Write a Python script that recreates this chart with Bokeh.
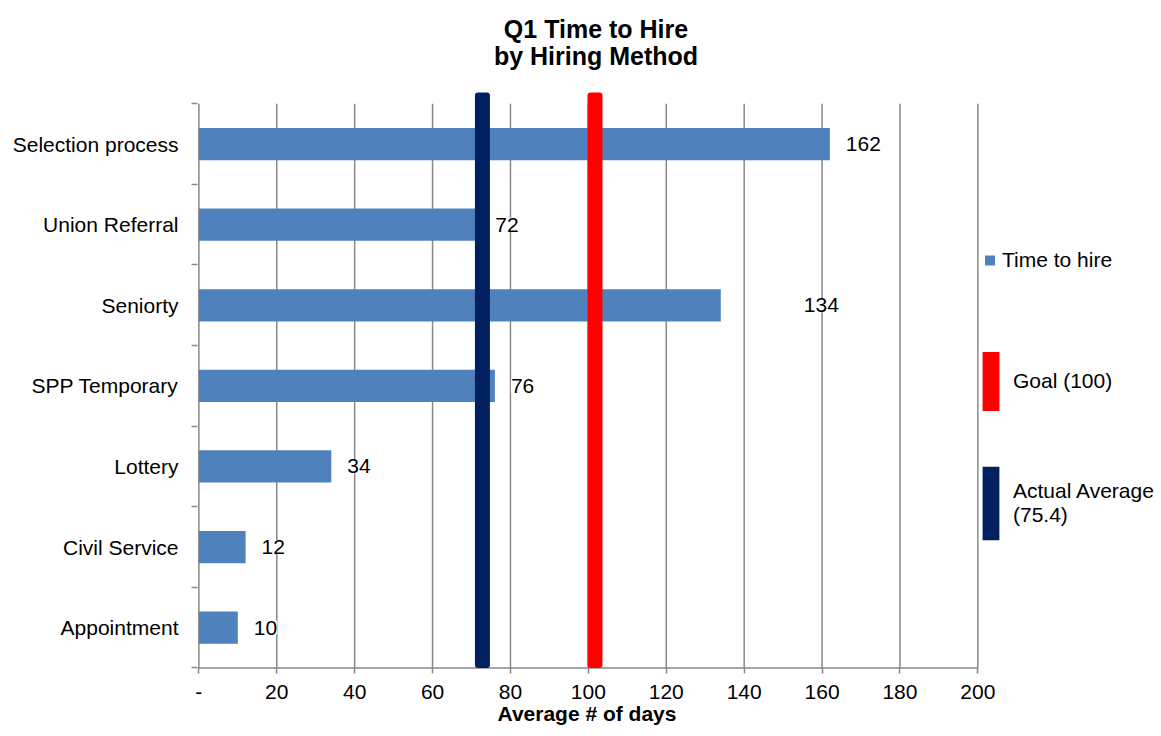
from bokeh.plotting import figure
from bokeh.models import (ColumnDataSource, Range1d, FixedTicker, LabelSet, Label,
                          Legend, LegendItem, Title)
from bokeh.core.properties import value
from bokeh.embed import file_html
from bokeh.resources import INLINE

# ---------------- data ----------------
categories = ["Selection process", "Union Referral", "Seniorty", "SPP Temporary",
              "Lottery", "Civil Service", "Appointment"]
days = [162, 72, 134, 76, 34, 12, 10]

x_ticks = [0, 20, 40, 60, 80, 100, 120, 140, 160, 180, 200]
x_tick_labels = ["-", "20", "40", "60", "80", "100", "120", "140", "160", "180", "200"]

goal_value = 100
actual_average = 75.4
# positions of the two reference lines as drawn in the chart
goal_line_x = 101.7
actual_line_x = 72.8

title_lines = ["Q1 Time to Hire", "by Hiring Method"]
x_axis_title = "Average # of days"

# ---------------- style / layout ----------------
FONT = "Liberation Sans"
BLUE = "#4F81BD"
RED = "#FF0000"
NAVY = "#002060"
GRID = "#888888"
label_offsets = [16, 16, 83, 16, 16, 16, 16]  # px offsets of value labels

W, H = 1161, 736
FRAME_LEFT, FRAME_BOTTOM = 197, 669      # frame spans to right/top edges
PX_PER_X, PX_PER_Y = 3.895, 80.58
X_START, Y_START = -0.35, -0.02


def px_to_x(px):
    return X_START + (px - FRAME_LEFT) / PX_PER_X


def px_to_y(py):
    return Y_START + (FRAME_BOTTOM - py) / PX_PER_Y


n = len(categories)
y_centers = [n - i - 0.5 for i in range(n)]
boundaries = list(range(n + 1))

p = figure(width=W, height=H,
           x_range=Range1d(X_START, px_to_x(W)),
           y_range=Range1d(Y_START, px_to_y(0)),
           output_backend="svg", toolbar_location=None,
           min_border_left=FRAME_LEFT, min_border_right=0,
           min_border_top=0, min_border_bottom=H - FRAME_BOTTOM)
p.outline_line_color = None
p.xgrid.visible = False
p.ygrid.visible = False
p.background_fill_color = "white"
p.border_fill_color = "white"

# title (two centred lines)
for line, py in zip(title_lines, [28.0, 55.5]):
    p.add_layout(Label(x=px_to_x(595.5), y=px_to_y(py), text=line,
                       text_align="center", text_baseline="middle",
                       text_font=FONT, text_font_size="25px",
                       text_font_style="bold", text_color="black"))

# vertical gridlines (including the value axis line at 0)
p.segment(x0=x_ticks, y0=0, x1=x_ticks, y1=n, line_color=GRID, line_width=1.5,
          level="underlay")
# category axis line at the bottom
p.segment(x0=[x_ticks[0]], y0=[0], x1=[x_ticks[-1]], y1=[0], line_color=GRID,
          line_width=1.5, level="underlay")

src = ColumnDataSource(dict(y=y_centers, right=days, cat=categories,
                            label=[str(d) for d in days], off=label_offsets))
bars = p.hbar(y="y", left=0, right="right", height=0.4, source=src,
              fill_color=BLUE, line_color=None)
legend_marker = p.scatter(x="right", y="y", source=src, marker="square", size=0,
                          fill_color=BLUE, line_color=None)

actual_r = p.vbar(x=[actual_line_x], width=3.85, bottom=0, top=n + 0.14,
                  fill_color=NAVY, line_color=None, border_radius=3)
goal_r = p.vbar(x=[goal_line_x], width=3.85, bottom=0, top=n + 0.14,
                fill_color=RED, line_color=None, border_radius=3)

labels = LabelSet(x="right", y="y", text="label", x_offset="off", source=src,
                  text_baseline="middle", text_align="left",
                  text_font=value(FONT), text_font_size="21px", text_color="black",
                  background_fill_color="white")
p.add_layout(labels)

# x axis (ticks and labels only; line drawn above)
xa = p.xaxis[0]
xa.ticker = FixedTicker(ticks=x_ticks)
xa.major_label_overrides = {t: l for t, l in zip(x_ticks, x_tick_labels)}
xa.major_tick_out = 4
xa.major_tick_in = 2
xa.minor_tick_line_color = None
xa.axis_line_color = None
xa.major_tick_line_color = GRID
xa.major_tick_line_width = 1.5
xa.major_label_text_font = FONT
xa.major_label_text_font_size = "21px"
xa.major_label_text_color = "black"
xa.major_label_standoff = 11

# x axis title, aligned under the value axis (0..200)
p.add_layout(Title(text=x_axis_title, align="left", offset=300,
                   vertical_align="top", standoff=0,
                   text_font=FONT, text_font_size="21px", text_font_style="bold",
                   text_color="black"), "below")

# y axis
ya = p.yaxis[0]
ya.ticker = FixedTicker(ticks=y_centers, minor_ticks=boundaries)
ya.major_label_overrides = {y: c for y, c in zip(y_centers, categories)}
ya.major_tick_line_color = None
ya.major_tick_out = 0
ya.major_tick_in = 0
ya.minor_tick_out = 6
ya.minor_tick_in = 0
ya.minor_tick_line_color = GRID
ya.minor_tick_line_width = 1.5
ya.axis_line_color = None
ya.major_label_text_font = FONT
ya.major_label_text_font_size = "21px"
ya.major_label_text_color = "black"
ya.major_label_standoff = 13


def make_legend(label, renderer, loc, gw, gh, standoff):
    leg = Legend(items=[LegendItem(label=label, renderers=[renderer])],
                 location=loc, orientation="vertical",
                 glyph_width=gw, glyph_height=gh, label_standoff=standoff,
                 label_height=gh, padding=0, spacing=0, margin=0,
                 border_line_color=None, background_fill_alpha=0,
                 label_text_font=FONT, label_text_font_size="21px",
                 label_text_color="black")
    p.add_layout(leg, "center")


make_legend("Time to hire", legend_marker, (780, 395), 25, 28, 0)
make_legend(f"Goal ({goal_value})", goal_r, (783, 251), 21, 74, 12)
make_legend(f"Actual Average\n({actual_average})", actual_r, (783, 120), 21, 92, 12)

open("out.html", "w").write(file_html(p, INLINE))
